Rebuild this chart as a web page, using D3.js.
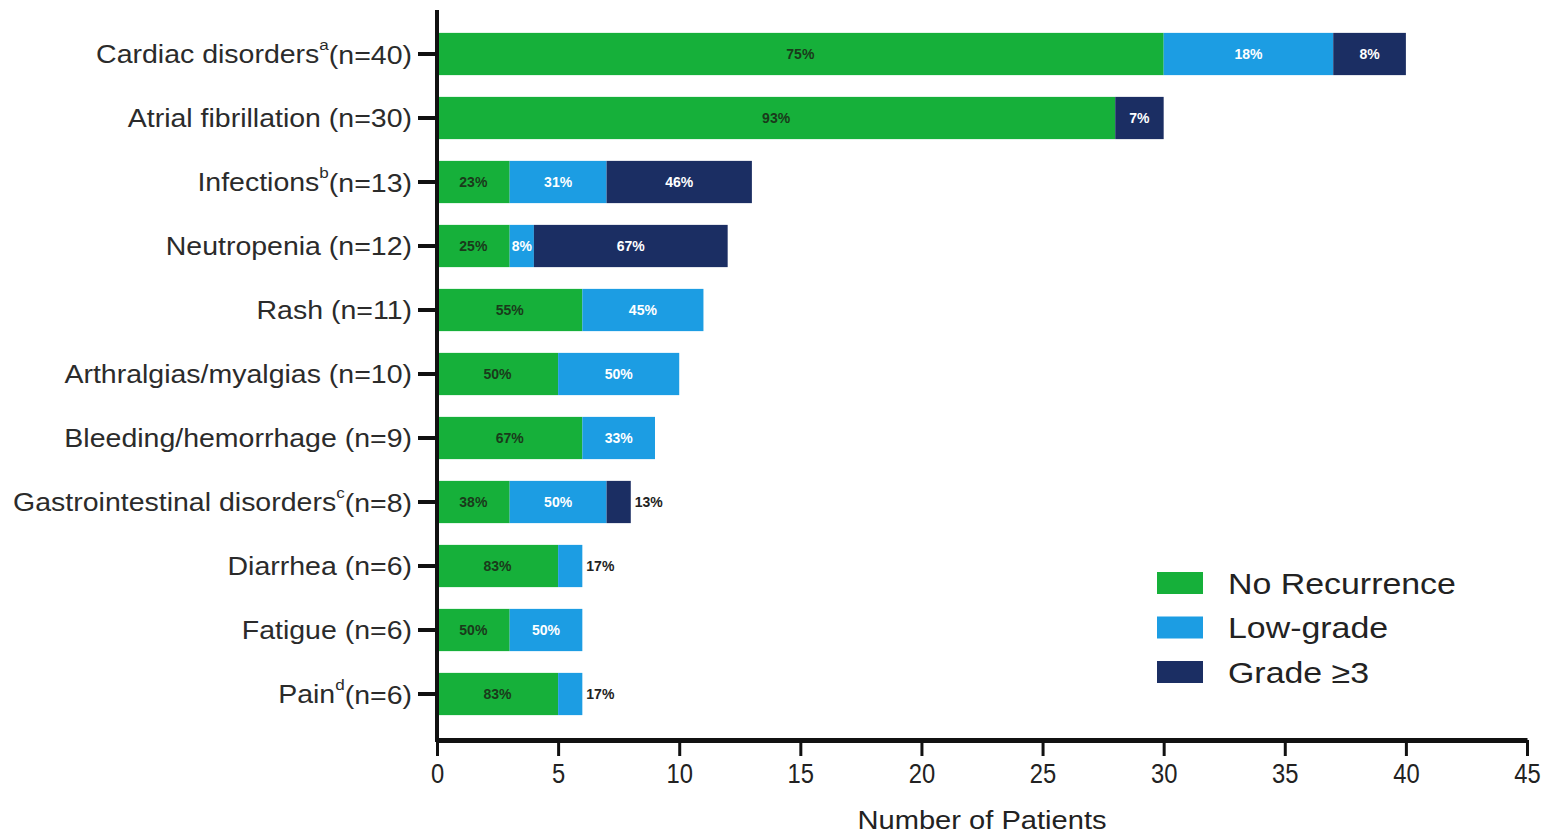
<!DOCTYPE html>
<html>
<head>
<meta charset="utf-8">
<script src="https://cdn.jsdelivr.net/npm/d3@7"></script>
<style>
  html, body { margin: 0; padding: 0; background: #ffffff; }
  svg { display: block; }
</style>
</head>
<body>
<svg id="chart" width="1544" height="835"></svg>
<script>
// Adverse-event categories (top to bottom) with superscript footnote markers
const categories = [
  "Cardiac disorders", "Atrial fibrillation", "Infections", "Neutropenia", "Rash",
  "Arthralgias/myalgias", "Bleeding/hemorrhage", "Gastrointestinal disorders",
  "Diarrhea", "Fatigue", "Pain"
];
const footnotes = ["a", "", "b", "", "", "", "", "c", "", "", "d"];
const totals = [40, 30, 13, 12, 11, 10, 9, 8, 6, 6, 6];

// Patient counts per outcome
const noRecurrence = [30, 28, 3, 3, 6, 5, 6, 3, 5, 3, 5];
const lowGrade     = [7, 0, 4, 1, 5, 5, 3, 4, 1, 3, 1];
const grade3Plus   = [3, 2, 6, 8, 0, 0, 0, 1, 0, 0, 0];

// Printed percentage labels per segment
const pctNoRecurrence = ["75%", "93%", "23%", "25%", "55%", "50%", "67%", "38%", "83%", "50%", "83%"];
const pctLowGrade     = ["18%", "", "31%", "8%", "45%", "50%", "33%", "50%", "17%", "50%", "17%"];
const pctGrade3Plus   = ["8%", "7%", "46%", "67%", "", "", "", "13%", "", "", ""];

const seriesNames = ["No Recurrence", "Low-grade", "Grade \u22653"];
const seriesColors = ["#16b03a", "#1c9de3", "#1b2e63"];
const xTicks = [0, 5, 10, 15, 20, 25, 30, 35, 40, 45];

const svg = d3.select("#chart");
const x = d3.scaleLinear().domain([0, 45]).range([437, 1527]);
const y = d3.scaleBand().domain(categories).range([22, 726]).paddingInner(0.34).paddingOuter(0.17);

const rows = categories.map((c, i) => ({
  cat: c,
  vals: [noRecurrence[i], lowGrade[i], grade3Plus[i]],
  pcts: [pctNoRecurrence[i], pctLowGrade[i], pctGrade3Plus[i]]
}));

const narrow = "'Liberation Sans Narrow', 'Arial Narrow', 'Liberation Sans', Arial, sans-serif";
const sans = "'Liberation Sans', Arial, sans-serif";

// Stacked bar segments
rows.forEach(r => {
  let start = 0;
  r.vals.forEach((v, k) => {
    const x0 = start, x1 = start + v;
    start = x1;
    if (v <= 0) return;
    svg.append("rect")
      .attr("x", x(x0))
      .attr("y", y(r.cat))
      .attr("width", x(x1) - x(x0))
      .attr("height", y.bandwidth())
      .attr("fill", seriesColors[k]);
  });
});

// Segment percentage labels: inside when the segment is wide enough, otherwise just past the bar end
rows.forEach(r => {
  let start = 0;
  const total = r.vals.reduce((a, b) => a + b, 0);
  r.vals.forEach((v, k) => {
    const x0 = start, x1 = start + v;
    start = x1;
    const txt = r.pcts[k];
    if (!txt || v <= 0) return;
    const lastSmall = k > 0 && x1 === total && v === 1 && total <= 8;
    const inside = !lastSmall;
    const cx = inside ? (x(x0) + x(x1)) / 2 : x(total) + 4;
    svg.append("text")
      .attr("x", cx)
      .attr("y", y(r.cat) + y.bandwidth() / 2)
      .attr("dy", "0.35em")
      .attr("text-anchor", inside ? "middle" : "start")
      .attr("font-family", narrow)
      .attr("font-size", 14)
      .attr("font-weight", "bold")
      .attr("fill", inside ? (k === 0 ? "#1a3a1a" : "#ffffff") : "#222222")
      .text(txt);
  });
});

// Category axis (left)
const yAxis = svg.append("g")
  .attr("transform", "translate(437,0)")
  .call(d3.axisLeft(y).tickSize(19).tickSizeOuter(0).tickFormat(""));
yAxis.select(".domain").remove();
yAxis.selectAll(".tick line").attr("stroke", "#111").attr("stroke-width", 4);
svg.append("line")
  .attr("x1", 437).attr("x2", 437).attr("y1", 10).attr("y2", 742)
  .attr("stroke", "#111").attr("stroke-width", 4);

// Category labels with superscripts (slightly wide lettering)
categories.forEach((c, i) => {
  const t = svg.append("g")
    .attr("transform", `translate(412,${y(c) + y.bandwidth() / 2}) scale(1.14,1)`)
    .append("text")
    .attr("dy", "0.36em")
    .attr("text-anchor", "end")
    .attr("font-family", sans)
    .attr("font-size", 25)
    .attr("fill", "#2b2b2b");
  t.append("tspan").text(c);
  if (footnotes[i]) {
    t.append("tspan").attr("font-size", 15).attr("dy", "-0.85em").text(footnotes[i]);
    t.append("tspan").attr("dy", "0.55em").text("(n=" + totals[i] + ")");
  } else {
    t.append("tspan").text(" (n=" + totals[i] + ")");
  }
});

// Value axis (bottom)
const xAxis = svg.append("g")
  .attr("transform", "translate(0,740)")
  .call(d3.axisBottom(x).tickValues(xTicks).tickSize(16).tickSizeOuter(0).tickPadding(8));
xAxis.select(".domain").attr("stroke", "#111").attr("stroke-width", 5);
xAxis.selectAll(".tick line").attr("stroke", "#111").attr("stroke-width", 3);
xAxis.selectAll(".tick text")
  .attr("font-family", narrow)
  .attr("font-size", 27)
  .attr("fill", "#222")
  .attr("transform", "scale(0.88,1)")
  .attr("x", 0);

svg.append("g")
  .attr("transform", `translate(${x(22.5)},829) scale(1.12,1)`)
  .append("text")
  .attr("text-anchor", "middle")
  .attr("font-family", narrow)
  .attr("font-size", 26)
  .attr("fill", "#222")
  .text("Number of Patients");

// Legend
const legend = svg.append("g").attr("transform", "translate(1157,583)");
seriesNames.forEach((name, k) => {
  const g = legend.append("g").attr("transform", `translate(0,${k * 44.5})`);
  g.append("rect").attr("x", 0).attr("y", -11).attr("width", 46).attr("height", 22).attr("fill", seriesColors[k]);
  g.append("g")
    .attr("transform", "translate(71,0) scale(1.13,1)")
    .append("text")
    .attr("dy", "0.36em")
    .attr("font-family", sans)
    .attr("font-size", 30)
    .attr("fill", "#222")
    .text(name);
});
</script>
</body>
</html>
